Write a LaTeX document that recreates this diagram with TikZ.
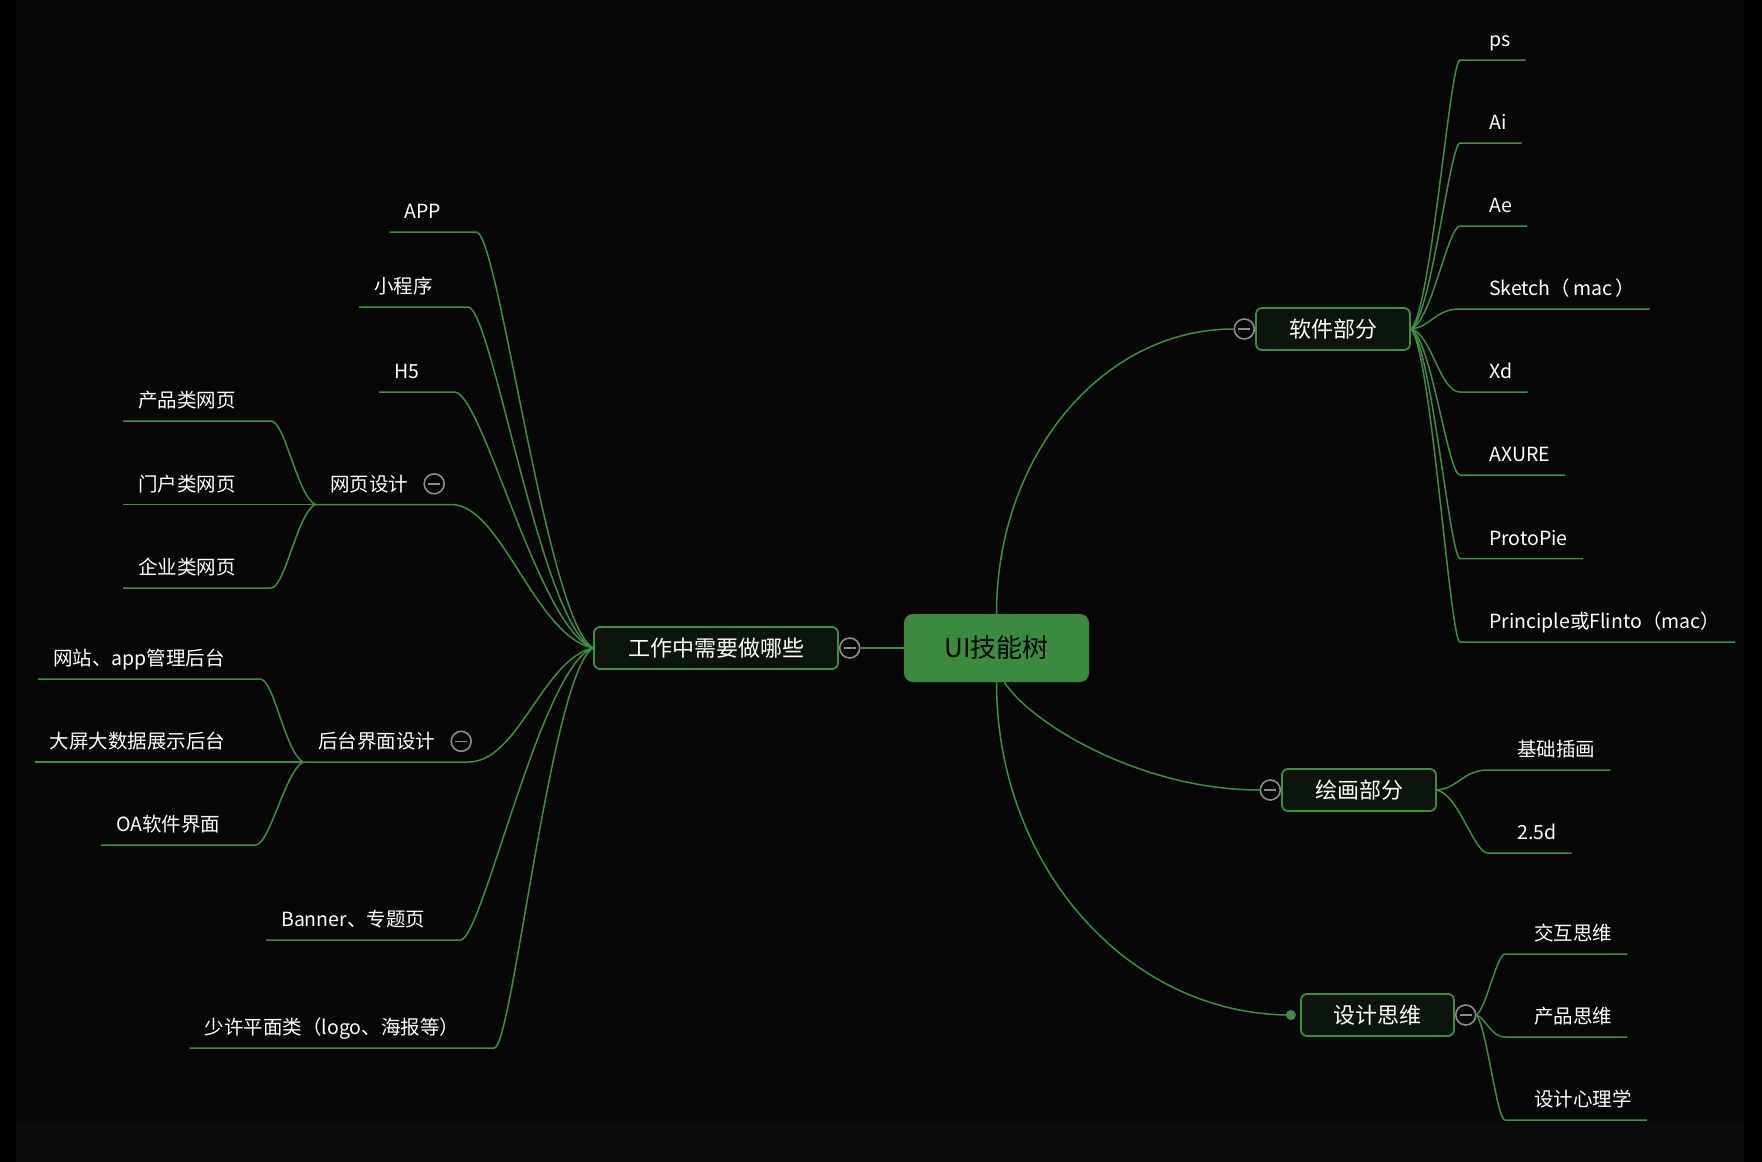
\documentclass[tikz,border=0pt]{standalone}
\usepackage{fontspec}
\newfontfamily\cjk{Noto Sans CJK SC}
\usetikzlibrary{positioning}

\definecolor{bgdark}{HTML}{070707}
\definecolor{bgfoot}{HTML}{0C0C0C}
\definecolor{linegreen}{HTML}{3D8F40}
\definecolor{rootgreen}{HTML}{3A8B3F}
\definecolor{topicfill}{HTML}{0B150B}
\definecolor{knobgray}{HTML}{8C8C8C}

\newcommand{\lpar}{（\hspace{3pt}}
\newcommand{\rpar}{\hspace{3pt}）}

\begin{document}
\begin{tikzpicture}[x=1pt,y=-1pt,
    branch/.style={draw=linegreen,line width=1.5pt},
    root/.style={rounded corners=9pt,fill=rootgreen,text=black,minimum width=185pt,
        minimum height=68pt,font=\cjk\fontsize{26}{30}\selectfont},
    topic/.style={rounded corners=6pt,draw=linegreen,line width=1.8pt,fill=topicfill,
        text=white,minimum height=42pt,font=\cjk\fontsize{22}{26}\selectfont},
    leaf/.style={anchor=south west,text=white,inner xsep=15pt,inner ysep=10pt,
        text height=18pt,text depth=3pt,font=\cjk\fontsize{19.5}{23}\selectfont},
    knob/.style={circle,draw=knobgray,line width=1.6pt,fill=bgdark,text=knobgray,
        minimum size=20pt,inner sep=0pt},
    dot/.style={circle,fill=linegreen,minimum size=10pt,inner sep=0pt}]

    \useasboundingbox (0,0) rectangle (1762,1162);
    \fill[bgdark] (0,0) rectangle (1762,1162);
    \fill[bgfoot] (0,1123) rectangle (1762,1162);
    \fill[black] (0,0) rectangle (16,1162);
    \fill[black] (1744,0) rectangle (1762,1162);

    % centre and main topics
    \node[root] (root) at (996.5,648) {UI技能树};
    \node[topic,minimum width=244pt] (work) at (716,648) {工作中需要做哪些};
    \node[knob,right=0pt of work] (wk) {\rule{12pt}{1.6pt}};
    \node[topic,minimum width=154pt] (soft) at (1333,329) {软件部分};
    \node[knob,left=0pt of soft] (sk) {\rule{12pt}{1.6pt}};
    \node[topic,minimum width=154pt] (paint) at (1359,790) {绘画部分};
    \node[knob,left=0pt of paint] (pk) {\rule{12pt}{1.6pt}};
    \node[topic,minimum width=153pt] (think) at (1377.5,1015) {设计思维};
    \node[knob,right=0pt of think] (tk) {\rule{12pt}{1.6pt}};
    \node[dot,left=4pt of think] (tdot) {};

    % left leaves
    \node[leaf] (app) at (389.5,232) {APP};
    \node[leaf] (mini) at (359,307) {小程序};
    \node[leaf] (h5) at (379,392) {H5};
    \node[leaf] (web) at (315,504.5) {网页设计};
    \node[knob,right=0pt of web] (wbk) {\rule{12pt}{1.6pt}};
    \node[leaf] (prodweb) at (123,421) {产品类网页};
    \node[leaf] (portal) at (123,504.5) {门户类网页};
    \node[leaf] (corp) at (123,588) {企业类网页};
    \node[leaf] (back) at (303,762) {后台界面设计};
    \node[knob,right=0pt of back] (bkk) {\rule{12pt}{1.6pt}};
    \node[leaf] (admin) at (38,679) {网站、app管理后台};
    \node[leaf] (screen) at (34.5,762) {大屏大数据展示后台};
    \node[leaf] (oa) at (101,845) {OA软件界面};
    \node[leaf] (banner) at (266,940) {Banner、专题页};
    \node[leaf] (flat) at (189.5,1048) {少许平面类（logo、海报等）};

    % right leaves
    \node[leaf] (ps) at (1474,60) {ps};
    \node[leaf] (ai) at (1474,143) {Ai};
    \node[leaf] (ae) at (1474,226) {Ae};
    \node[leaf] (sketch) at (1474,309) {Sketch\lpar mac\rpar};
    \node[leaf] (xd) at (1474,392) {Xd};
    \node[leaf] (axure) at (1474,475) {AXURE};
    \node[leaf] (protopie) at (1474,558.5) {ProtoPie};
    \node[leaf] (principle) at (1474,642) {Principle或Flinto（mac）};
    \node[leaf] (basic) at (1502,770) {基础插画};
    \node[leaf] (dtwo) at (1502,853) {2.5d};
    \node[leaf] (inter) at (1519,954) {交互思维};
    \node[leaf] (prod) at (1519,1037) {产品思维};
    \node[leaf] (psy) at (1519,1120) {设计心理学};

    % main branches
    \draw[branch] (root.west) -- (wk.east);
    \draw[branch] (root.north) .. controls +(0,-157) and +(-132,0) .. (sk.west);
    \draw[branch] ([xshift=8pt]root.south) .. controls +(25,40) and +(-120,0) .. (pk.west);
    \draw[branch] (root.south) .. controls +(0,184) and +(-163,0) .. (tdot.center);

    \draw[branch] (app.south west) -- (app.south east) -- ++(20,0) .. controls +(22,0) and +(-46,-25) .. (work.west);
    \draw[branch] (mini.south west) -- (mini.south east) -- ++(20,0) .. controls +(24,0) and +(-52,-22) .. (work.west);
    \draw[branch] (h5.south west) -- (h5.south east) -- ++(20,0) .. controls +(28,0) and +(-54,-18) .. (work.west);
    \draw[branch] (web.south west) -- (web.south east) -- ++(28,0) .. controls +(50,0) and +(-58,-12) .. (work.west);
    \draw[branch] (back.south west) -- (back.south east) -- ++(18,0) .. controls +(50,0) and +(-50,11) .. (work.west);
    \draw[branch] (banner.south west) -- (banner.south east) -- ++(20,0) .. controls +(22,0) and +(-52,18) .. (work.west);
    \draw[branch] (flat.south west) -- (flat.south east) -- ++(20,0) .. controls +(18,0) and +(-42,25) .. (work.west);

    \draw[branch] (prodweb.south west) -- (prodweb.south east) -- ++(20,0) .. controls +(14,0) and +(-18,-10) .. (web.south west);
    \draw[branch] (portal.south west) -- (web.south west);
    \draw[branch] (corp.south west) -- (corp.south east) -- ++(20,0) .. controls +(14,0) and +(-18,10) .. (web.south west);
    \draw[branch] (admin.south west) -- (admin.south east) -- ++(20,0) .. controls +(14,0) and +(-18,-10) .. (back.south west);
    \draw[branch] (screen.south west) -- (back.south west);
    \draw[branch] (oa.south west) -- (oa.south east) -- ++(20,0) .. controls +(14,0) and +(-18,10) .. (back.south west);

    \draw[branch] (ps.south east) -- (ps.south west) -- ++(-14,0) .. controls +(-10,0) and +(20,-16) .. (soft.east);
    \draw[branch] (ai.south east) -- (ai.south west) -- ++(-14,0) .. controls +(-10,0) and +(20,-11) .. (soft.east);
    \draw[branch] (ae.south east) -- (ae.south west) -- ++(-14,0) .. controls +(-12,0) and +(20,-6) .. (soft.east);
    \draw[branch] (sketch.south east) -- (sketch.south west) -- ++(-14,0) .. controls +(-25,0) and +(20,-2) .. (soft.east);
    \draw[branch] (xd.south east) -- (xd.south west) -- ++(-14,0) .. controls +(-20,0) and +(20,4) .. (soft.east);
    \draw[branch] (axure.south east) -- (axure.south west) -- ++(-14,0) .. controls +(-12,0) and +(20,9) .. (soft.east);
    \draw[branch] (protopie.south east) -- (protopie.south west) -- ++(-14,0) .. controls +(-10,0) and +(20,14) .. (soft.east);
    \draw[branch] (principle.south east) -- (principle.south west) -- ++(-14,0) .. controls +(-10,0) and +(20,19) .. (soft.east);

    \draw[branch] (basic.south east) -- (basic.south west) -- ++(-14,0) .. controls +(-25,0) and +(22,-2) .. (paint.east);
    \draw[branch] (dtwo.south east) -- (dtwo.south west) -- ++(-14,0) .. controls +(-14,0) and +(22,5) .. (paint.east);

    \draw[branch] (inter.south east) -- (inter.south west) -- ++(-14,0) .. controls +(-8,0) and +(10,-8) .. (tk.east);
    \draw[branch] (prod.south east) -- (prod.south west) -- ++(-14,0) .. controls +(-14,0) and +(10,4) .. (tk.east);
    \draw[branch] (psy.south east) -- (psy.south west) -- ++(-14,0) .. controls +(-8,0) and +(10,12) .. (tk.east);
\end{tikzpicture}
\end{document}
